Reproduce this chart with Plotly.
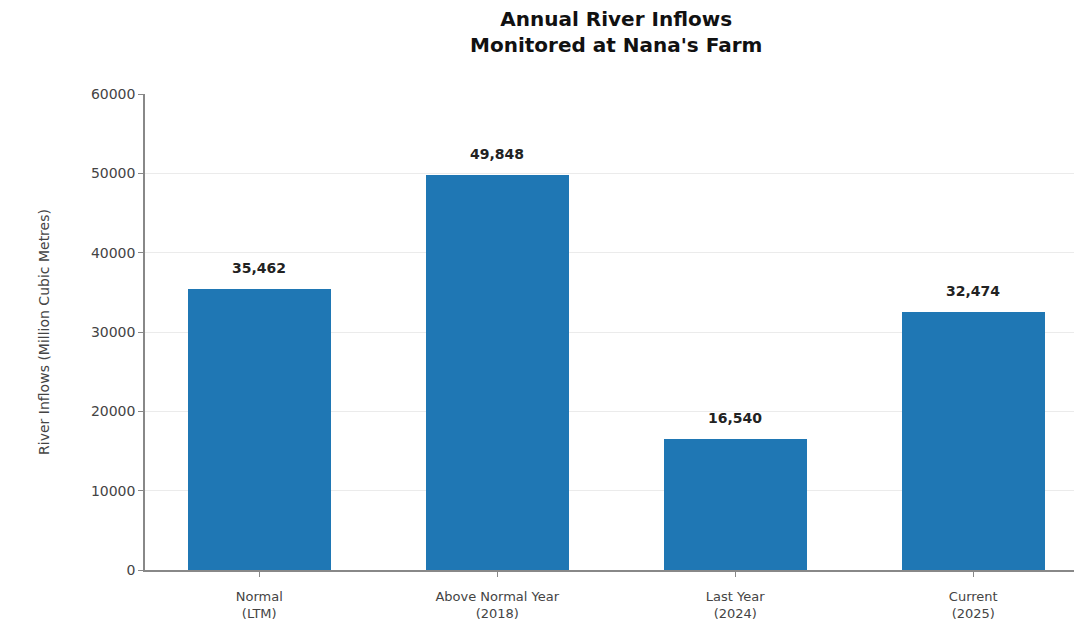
import plotly.graph_objects as go

categories = ["Normal<br>(LTM)", "Above Normal Year<br>(2018)", "Last Year<br>(2024)", "Current<br>(2025)"]
values = [35462, 49848, 16540, 32474]
y_ticks = [0, 10000, 20000, 30000, 40000, 50000, 60000]

W, H = 1074, 624
ml, mr, mt, mb = 145, 0, 94, 54
x_pos = list(range(len(categories)))
FONT = "DejaVu Sans"

fig = go.Figure()
fig.add_trace(go.Bar(
    x=x_pos, y=values, width=0.6,
    marker=dict(color="#1f77b4", line=dict(width=0)),
    showlegend=False, hoverinfo="skip",
))

for xp, v in zip(x_pos, values):
    fig.add_annotation(x=xp, y=v, text="<b>%s</b>" % format(v, ","), showarrow=False,
                       yanchor="bottom", yshift=11,
                       font=dict(family=FONT, size=14, color="#222222"))

fig.add_annotation(xref="paper", yref="paper", x=(616 - ml) / (W - ml - mr), y=1 + (94 - 32) / (H - mt - mb),
                   text="<b>Annual River Inflows<br>Monitored at Nana's Farm</b>", showarrow=False,
                   xanchor="center", yanchor="middle",
                   font=dict(family=FONT, size=20, color="#111111"))

fig.update_layout(
    width=W, height=H,
    margin=dict(l=ml, r=mr, t=mt, b=mb, autoexpand=False),
    paper_bgcolor="white", plot_bgcolor="white",
    bargap=0,
    xaxis=dict(
        range=[-0.48, -0.48 + (W - ml - mr) / 238.0],
        automargin=False,
        tickmode="array", tickvals=x_pos, ticktext=categories,
        showgrid=False, zeroline=False,
        showline=True, linecolor="#888888", linewidth=1.5,
        ticks="outside", ticklen=5, tickcolor="#888888",
        ticklabelstandoff=9,
        tickfont=dict(family=FONT, size=13, color="#444444"),
    ),
    yaxis=dict(
        range=[0, 60000],
        automargin=False,
        tickmode="array", tickvals=y_ticks, ticktext=[str(t) for t in y_ticks],
        showgrid=True, gridcolor="#ebebeb", gridwidth=1,
        zeroline=False,
        showline=True, linecolor="#888888", linewidth=1.5,
        ticks="outside", ticklen=5, tickcolor="#888888",
        tickfont=dict(family=FONT, size=14, color="#444444"),
        title=dict(text="River Inflows (Million Cubic Metres)", standoff=38,
                   font=dict(family=FONT, size=14, color="#444444")),
    ),
)

fig.write_html("out.html")
